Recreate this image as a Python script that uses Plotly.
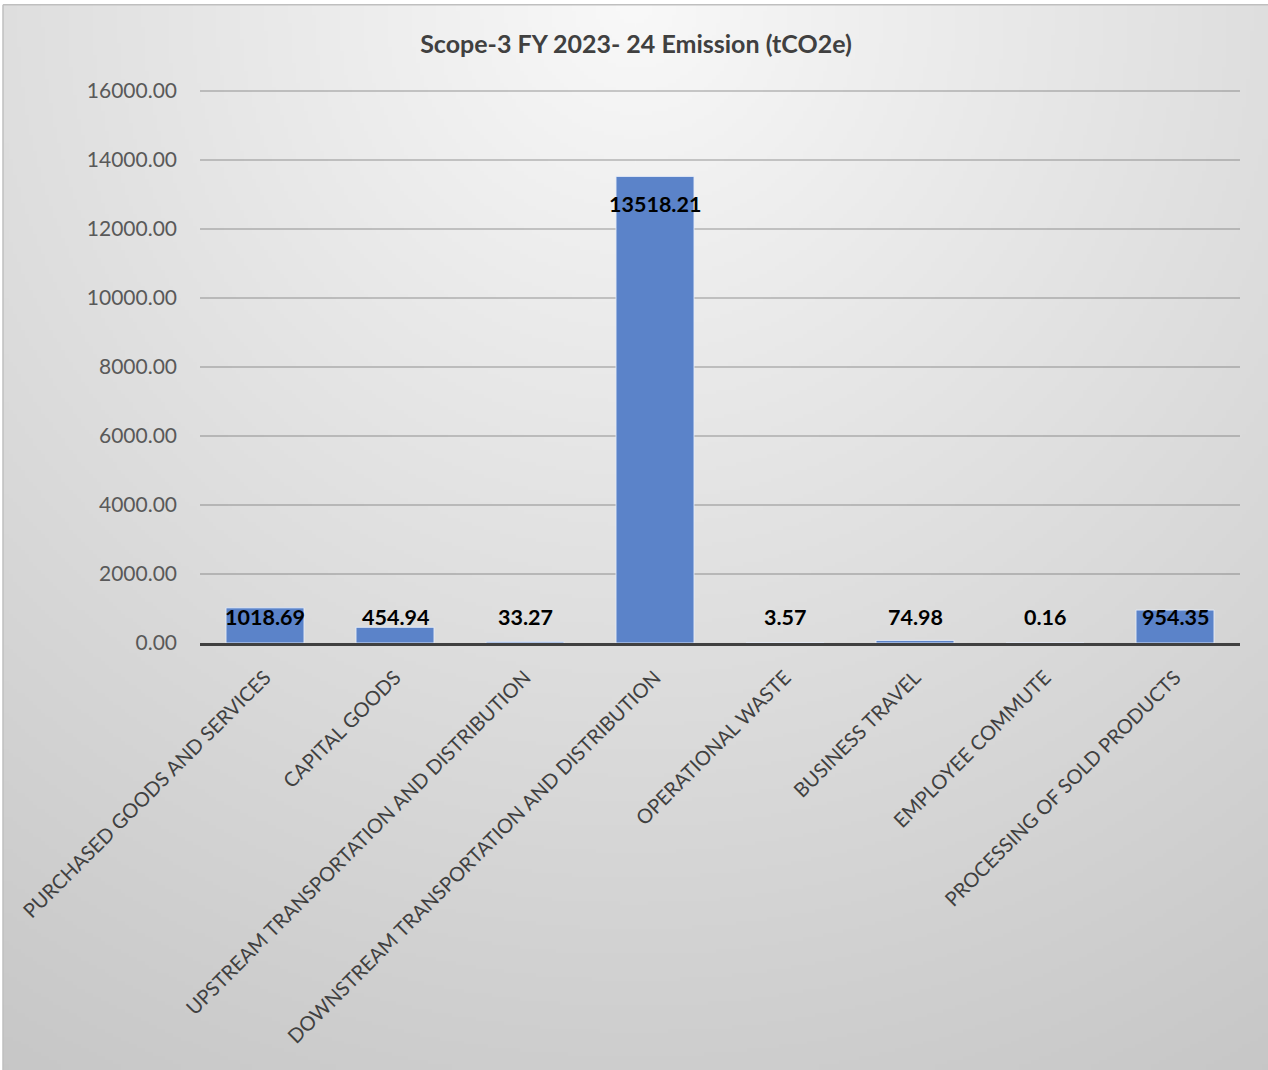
import base64, struct, zlib
import numpy as np
import plotly.graph_objects as go

categories = [
    "PURCHASED GOODS AND SERVICES",
    "CAPITAL GOODS",
    "UPSTREAM TRANSPORTATION AND DISTRIBUTION",
    "DOWNSTREAM TRANSPORTATION AND DISTRIBUTION",
    "OPERATIONAL WASTE",
    "BUSINESS TRAVEL",
    "EMPLOYEE COMMUTE",
    "PROCESSING OF SOLD PRODUCTS",
]
emissions = [1018.69, 454.94, 33.27, 13518.21, 3.57, 74.98, 0.16, 954.35]
y_ticks = [0, 2000, 4000, 6000, 8000, 10000, 12000, 14000, 16000]
y_tick_labels = [f"{v:.2f}" for v in y_ticks]
title_text = "Scope-3 FY 2023- 24 Emission (tCO2e)"

W, H = 1268, 1070
axis_y_px = 643          # pixel row of the value axis zero line
top_tick_px = 91         # pixel row of the 16000 gridline
ymax = 16000
range_top = 16080        # a little headroom so the top gridline is drawn
px_per_unit = (axis_y_px - top_tick_px) / ymax
L, R = 200, 28
B = H - axis_y_px
T = axis_y_px - range_top * px_per_unit
plot_w = W - L - R
plot_h = H - T - B

# --- radial gradient background as PNG data URI ---
def gradient_png(w, h):
    xs = np.linspace(0, 1265, w)
    ys = np.linspace(0, 1065, h)
    X, Y = np.meshgrid(xs, ys)
    d = np.sqrt((X - 632) ** 2 + (Y - 0) ** 2)
    v = 249 - 50 * (d / 1237.0) ** 0.95
    v = np.clip(v, 0, 255).astype(np.uint8)
    raw = b"".join(b"\x00" + v[i].tobytes() for i in range(h))
    def chunk(t, data):
        c = struct.pack(">I", len(data)) + t + data
        return c + struct.pack(">I", zlib.crc32(t + data) & 0xffffffff)
    png = b"\x89PNG\r\n\x1a\n"
    png += chunk(b"IHDR", struct.pack(">IIBBBBB", w, h, 8, 0, 0, 0, 0))
    png += chunk(b"IDAT", zlib.compress(raw, 9))
    png += chunk(b"IEND", b"")
    return "data:image/png;base64," + base64.b64encode(png).decode()

bg = gradient_png(317, 267)

def px2paper_x(px):
    return (px - L) / plot_w

def px2paper_y(py):
    return (H - B - py) / plot_h

font_family = "Lato, 'Open Sans', sans-serif"

fig = go.Figure()
fig.add_trace(go.Bar(
    x=categories,
    y=emissions,
    width=0.6,
    marker=dict(color="#5b83c9", line=dict(color="rgba(230,236,248,0.9)", width=1)),
    hoverinfo="x+y",
))

# data labels: inside end, but never lower than a minimum offset above the axis
off_top = 28 / px_per_unit
min_pos = 26 / px_per_unit
for c, v in zip(categories, emissions):
    fig.add_annotation(
        x=c, y=max(v - off_top, min_pos), text=f"<b>{v:.2f}</b>",
        showarrow=False, xref="x", yref="y", yanchor="middle",
        font=dict(family=font_family, size=21.5, color="#000000"),
    )

fig.add_layout_image(
    source=bg, xref="paper", yref="paper",
    x=px2paper_x(3), y=px2paper_y(5),
    sizex=(W - 3) / plot_w, sizey=(H - 5) / plot_h,
    xanchor="left", yanchor="top", sizing="stretch", layer="below",
)
# chart frame border (top and left edges)
fig.add_shape(type="line", xref="paper", yref="paper",
              x0=px2paper_x(3), x1=px2paper_x(W), y0=px2paper_y(5), y1=px2paper_y(5),
              line=dict(color="#bfbfbf", width=1.5), layer="above")
fig.add_shape(type="line", xref="paper", yref="paper",
              x0=px2paper_x(3), x1=px2paper_x(3), y0=px2paper_y(5), y1=px2paper_y(H),
              line=dict(color="#bfbfbf", width=1.5), layer="above")

fig.update_layout(
    width=W, height=H,
    margin=dict(l=L, r=R, t=T, b=B, autoexpand=False),
    paper_bgcolor="white",
    plot_bgcolor="rgba(0,0,0,0)",
    showlegend=False,
    bargap=0.4,
    title=dict(text=f"<b>{title_text}</b>", x=(636) / W, xanchor="center",
               y=1 - 44 / H, yanchor="middle",
               font=dict(family=font_family, size=25, color="#404040")),
    xaxis=dict(
        tickangle=-45, tickfont=dict(family=font_family, size=20, color="#404040"),
        showgrid=False, showline=True, linecolor="#404040", linewidth=3,
        ticks="", ticklabelstandoff=12, zeroline=False,
    ),
    yaxis=dict(
        range=[0, range_top], tickvals=y_ticks, ticktext=y_tick_labels,
        tickfont=dict(family=font_family, size=21, color="#595959"),
        showgrid=True, gridcolor="rgba(90,90,90,0.3)", gridwidth=1.6,
        zeroline=False, showline=False, ticks="", ticklabelstandoff=22,
    ),
)

fig.write_html("out.html", config={"displayModeBar": False},
               post_script="document.body.style.margin='0';")
